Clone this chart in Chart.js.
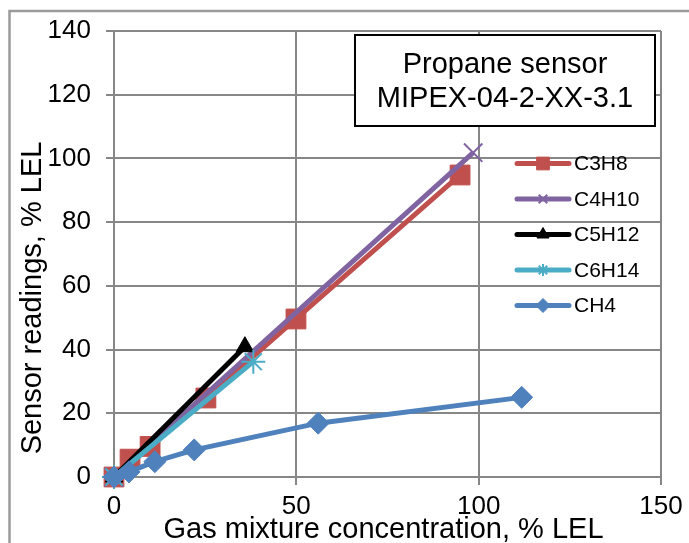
<!DOCTYPE html>
<html>
<head>
<meta charset="utf-8">
<title>Propane sensor MIPEX-04-2-XX-3.1</title>
<script src="https://cdn.jsdelivr.net/npm/chart.js@4.4.0/dist/chart.umd.min.js"></script>
<style>
  html, body { margin: 0; padding: 0; background: #fff; }
  #wrap { width: 689px; height: 543px; }
</style>
</head>
<body>
<div id="wrap"><canvas id="sensorChart" width="689" height="543"></canvas></div>
<script>
// Values (x: gas mixture concentration, y: sensor reading, both % LEL)
const seriesNames = ['C3H8', 'C4H10', 'C5H12', 'C6H14', 'CH4'];
const c3h8X = [0, 4.4, 9.9, 25.2, 49.9, 94.9];
const c3h8Y = [0, 5.6, 9.6, 24.8, 49.6, 94.8];
const c4h10X = [0, 98.5];
const c4h10Y = [0, 101.8];
const c5h12X = [0, 35.9];
const c5h12Y = [0, 40.9];
const c6h14X = [0, 38.2];
const c6h14Y = [0, 36.2];
const ch4X = [0, 4.1, 11.2, 22, 56, 111.8];
const ch4Y = [0, 1.6, 4.8, 8.5, 16.9, 25];
const xTicks = [0, 50, 100, 150];
const yTicks = [0, 20, 40, 60, 80, 100, 120, 140];

const xTitle = 'Gas mixture concentration, % LEL';
const yTitle = 'Sensor readings, % LEL';
const boxTitle = ['Propane sensor', 'MIPEX-04-2-XX-3.1'];

// Styles (Excel 2007 palette)
const seriesColors = ['#C0504D', '#8064A2', '#000000', '#4BACC6', '#4F81BD'];
const seriesMarkers = ['rect', 'crossRot', 'triangle', 'star', 'rectRot'];
const markerSizes = [14, 13, 10, 12, 11];
const legendSizes = [9, 6, 7, 6, 7];
const gridColor = '#878787';
const FONT = '"Liberation Sans", Arial, sans-serif';

function toPoints(xs, ys) {
  return xs.map((x, i) => ({ x: x, y: ys[i] }));
}

const seriesData = [
  toPoints(c3h8X, c3h8Y),
  toPoints(c4h10X, c4h10Y),
  toPoints(c5h12X, c5h12Y),
  toPoints(c6h14X, c6h14Y),
  toPoints(ch4X, ch4Y)
];

// Excel draws the first series at the bottom, CH4 on top
const datasets = seriesNames.map((name, i) => {
  const cross = seriesMarkers[i] === 'crossRot' || seriesMarkers[i] === 'star';
  return {
    label: name,
    data: seriesData[i],
    order: seriesNames.length - i,
    borderColor: seriesColors[i],
    backgroundColor: seriesColors[i],
    borderWidth: 5,
    tension: 0,
    clip: false,
    pointStyle: seriesMarkers[i],
    pointRadius: markerSizes[i],
    pointHoverRadius: markerSizes[i],
    pointBackgroundColor: seriesColors[i],
    pointBorderColor: seriesColors[i],
    pointBorderWidth: cross ? 2 : 1
  };
});

// Frame, axis titles, title box and legend
const decorPlugin = {
  id: 'decor',
  beforeDraw(chart) {
    const ctx = chart.ctx;
    ctx.save();
    ctx.fillStyle = '#fff';
    ctx.fillRect(0, 0, chart.width, chart.height);
    ctx.restore();
  },
  afterDraw(chart) {
    const ctx = chart.ctx;
    ctx.save();

    // outer chart border
    ctx.strokeStyle = '#9a9a9a';
    ctx.lineWidth = 2.5;
    ctx.strokeRect(9.5, 11, 720, 600);

    // axis titles
    ctx.fillStyle = '#000';
    ctx.font = '29px ' + FONT;
    ctx.textAlign = 'center';
    ctx.textBaseline = 'middle';
    ctx.fillText(xTitle, 383.5, 530);
    ctx.save();
    ctx.translate(33, 298);
    ctx.rotate(-Math.PI / 2);
    ctx.fillText(yTitle, 0, 0);
    ctx.restore();

    // title box
    ctx.fillStyle = '#fff';
    ctx.fillRect(355, 35, 300, 91);
    ctx.strokeStyle = '#000';
    ctx.lineWidth = 2;
    ctx.strokeRect(355, 35, 300, 91);
    ctx.fillStyle = '#000';
    ctx.textBaseline = 'alphabetic';
    ctx.fillText(boxTitle[0], 505, 72.5);
    ctx.fillText(boxTitle[1], 505, 106.5);

    // legend
    ctx.font = '21px ' + FONT;
    ctx.textAlign = 'left';
    ctx.textBaseline = 'middle';
    chart.data.datasets.forEach((ds, i) => {
      const y = 163.5 + i * 35.5;
      ctx.strokeStyle = ds.borderColor;
      ctx.fillStyle = ds.borderColor;
      ctx.lineWidth = 5;
      ctx.lineCap = 'round';
      ctx.beginPath();
      ctx.moveTo(517, y);
      ctx.lineTo(569, y);
      ctx.stroke();
      ctx.lineCap = 'butt';
      ctx.lineWidth = ds.pointBorderWidth;
      Chart.helpers.drawPoint(ctx, {
        pointStyle: ds.pointStyle,
        radius: legendSizes[i],
        rotation: 0,
        borderWidth: ds.pointBorderWidth
      }, 543, y);
      ctx.fillStyle = '#000';
      ctx.fillText(ds.label, 574, y + 1);
    });

    ctx.restore();
  }
};

const ctx = document.getElementById('sensorChart').getContext('2d');
new Chart(ctx, {
  type: 'line',
  data: { datasets: datasets },
  options: {
    responsive: false,
    animation: false,
    layout: { padding: { top: 31, right: 28, left: 0, bottom: 0 } },
    plugins: {
      legend: { display: false },
      tooltip: { enabled: false }
    },
    scales: {
      x: {
        type: 'linear',
        min: xTicks[0],
        max: xTicks[xTicks.length - 1],
        afterBuildTicks: s => { s.ticks = xTicks.map(v => ({ value: v })); },
        afterFit: s => { s.height = 66; },
        grid: { color: gridColor, lineWidth: 2, tickLength: 8 },
        border: { color: gridColor, width: 2 },
        ticks: { color: '#000', font: { family: FONT, size: 26 }, padding: 6, maxRotation: 0 }
      },
      y: {
        type: 'linear',
        min: yTicks[0],
        max: yTicks[yTicks.length - 1],
        afterBuildTicks: s => { s.ticks = yTicks.map(v => ({ value: v })); },
        afterFit: s => { s.width = 114; },
        grid: { color: gridColor, lineWidth: 2, tickLength: 8 },
        border: { color: gridColor, width: 2 },
        ticks: { color: '#000', font: { family: FONT, size: 26 }, padding: 15 }
      }
    }
  },
  plugins: [decorPlugin]
});
</script>
</body>
</html>
